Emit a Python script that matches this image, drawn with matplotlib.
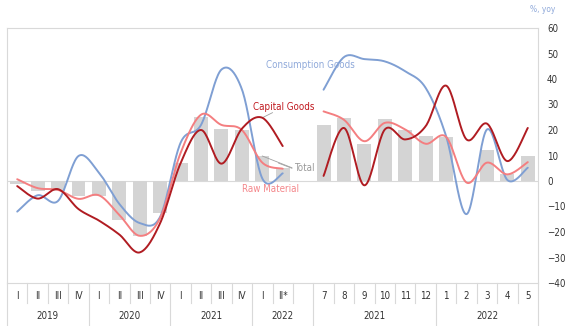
import numpy as np
import matplotlib
matplotlib.use("Agg")
import matplotlib.pyplot as plt
from matplotlib.transforms import blended_transform_factory

plt.rcParams["font.family"] = ["DejaVu Sans"]
plt.rcParams["font.stretch"] = "condensed"

nan = np.nan

# ── data ─────────────────────────────────────────────────────────
cat_labels = ["I", "II", "III", "IV", "I", "II", "III", "IV", "I", "II", "III", "IV",
              "I", "II*", "", "7", "8", "9", "10", "11", "12", "1", "2", "3", "4", "5"]
year_labels = ["2019", "2020", "2021", "2022", "2021", "2022"]
year_spans = [(0, 3), (4, 7), (8, 11), (12, 14), (15, 20), (21, 25)]

total = [-1, -4, -4, -6, -6, -15.3, -21.4, -12.5, 7, 25, 20.4, 20, 9.8, 5, nan,
         21.9, 24.8, 14.6, 24.5, 19.9, 17.6, 17.3, -0.3, 12.1, 2.6, 9.8]
consumption = [-12, -5.6, -7.8, 9.8, 3.3, -9, -16.5, -14, 15, 22, 43.7, 36, 1, 3, nan,
               35.8, 48.6, 47.8, 46.9, 43, 36.5, 17.6, -13, 20.2, 0.4, 5.2]
capital = [-2, -6.9, -3.2, -11, -15.5, -21, -28, -16.5, 7, 20, 6.8, 20.5, 24.8, 13.7, nan,
           2, 20.8, -1.7, 20.2, 16.3, 21.5, 37.4, 16.3, 22.5, 7.8, 20.8]
raw = [0.7, -2.8, -3.5, -7, -5.6, -13.3, -21.5, -14.5, 11, 26, 22, 20, 7.2, 4.8, nan,
       27.3, 24, 15.6, 22.8, 20.2, 14.6, 17.3, -0.6, 7.2, 2.6, 7.4]

C_BLUE = "#7F9FD3"
C_RED = "#B01C22"
C_PINK = "#F47E80"
C_BAR = "#D4D4D4"
C_GRID = "#D9D9D9"


def smooth(xs, ys, n=24):
    """Excel-like smoothed line (Bezier through points), gaps at NaN."""
    xs = np.asarray(xs, float)
    ys = np.asarray(ys, float)
    out_x, out_y = [], []
    runs, cur = [], []
    for i, v in enumerate(ys):
        if np.isnan(v):
            if cur:
                runs.append(cur)
            cur = []
        else:
            cur.append(i)
    if cur:
        runs.append(cur)
    t = np.linspace(0, 1, n)
    for r in runs:
        px = xs[r]
        py = ys[r]
        px = np.concatenate([[px[0]], px, [px[-1]]])
        py = np.concatenate([[py[0]], py, [py[-1]]])
        for k in range(1, len(px) - 2):
            p0 = np.array([px[k - 1], py[k - 1]])
            p1 = np.array([px[k], py[k]])
            p2 = np.array([px[k + 1], py[k + 1]])
            p3 = np.array([px[k + 2], py[k + 2]])
            c1 = p1 + (p2 - p0) / 6.0
            c2 = p2 - (p3 - p1) / 6.0
            b = ((1 - t) ** 3)[:, None] * p1 + (3 * (1 - t) ** 2 * t)[:, None] * c1 \
                + (3 * (1 - t) * t ** 2)[:, None] * c2 + (t ** 3)[:, None] * p2
            out_x.extend(b[:, 0])
            out_y.extend(b[:, 1])
        out_x.append(nan)
        out_y.append(nan)
    return np.array(out_x), np.array(out_y)


x = np.arange(len(cat_labels))

fig = plt.figure(figsize=(5.71, 3.26), dpi=100)
ax = fig.add_axes([7 / 571, 1 - 283 / 326, 531 / 571, 255 / 326])

ax.bar(x, total, width=0.68, color=C_BAR, zorder=1)
ax.axhline(0, color=C_GRID, lw=0.8, zorder=0.5)

for ys, c in [(consumption, C_BLUE), (raw, C_PINK), (capital, C_RED)]:
    sx, sy = smooth(x, ys)
    ax.plot(sx, sy, color=c, lw=1.4, zorder=3, solid_capstyle="round")

ax.set_xlim(-0.5, len(cat_labels) - 0.5)
ax.set_ylim(-40, 60)
ax.set_yticks(np.arange(-40, 61, 10))
ax.yaxis.tick_right()
ax.tick_params(axis="y", length=0, pad=6.5, labelsize=7, labelcolor="#333333")
ax.set_xticks([])
for s in ax.spines.values():
    s.set_color(C_GRID)
    s.set_linewidth(0.8)

# category axis drawn by hand
tr = blended_transform_factory(ax.transData, ax.transAxes)
for i, lab in enumerate(cat_labels):
    ax.text(i, -0.051, lab, transform=tr, ha="center", va="center",
            fontsize=7, color="#333333")
for lab, (a, b) in zip(year_labels, year_spans):
    ax.text((a + b) / 2, -0.129, lab, transform=tr, ha="center", va="center",
            fontsize=7, color="#333333")
group_edges = [-0.5] + [b + 0.5 for _, b in year_spans]
for k in range(len(cat_labels) + 1):
    xe = k - 0.5
    if xe in group_edges:
        ax.plot([xe, xe], [0, -0.17], transform=tr, color=C_GRID, lw=0.8, clip_on=False)
    else:
        ax.plot([xe, xe], [0, -0.078], transform=tr, color=C_GRID, lw=0.8, clip_on=False)

# series labels
ax.text(12.2, 45.5, "Consumption Goods", color="#8FA9DA", fontsize=7, ha="left", va="center")
ax.text(11.55, 29, "Capital Goods", color="#C0181E", fontsize=7, ha="left", va="center")
ax.plot([12.05, 12.5], [25, 26.8], color="#A0A0A0", lw=0.6)
ax.text(13.55, 5, "Total", color="#999999", fontsize=7, ha="left", va="center")
ax.plot([12.0, 13.45], [9.8, 5.2], color="#A0A0A0", lw=0.6)
ax.plot([12.8, 13.45], [7.0, 5.0], color="#A0A0A0", lw=0.6)
ax.text(12.4, -3, "Raw Material", color="#F4868A", fontsize=7, ha="center", va="center")

fig.text(543 / 571, 1 - 9 / 326, "%, yoy", color="#8FA9DA", fontsize=6, ha="center", va="center")

fig.savefig("out.png", dpi=100)
